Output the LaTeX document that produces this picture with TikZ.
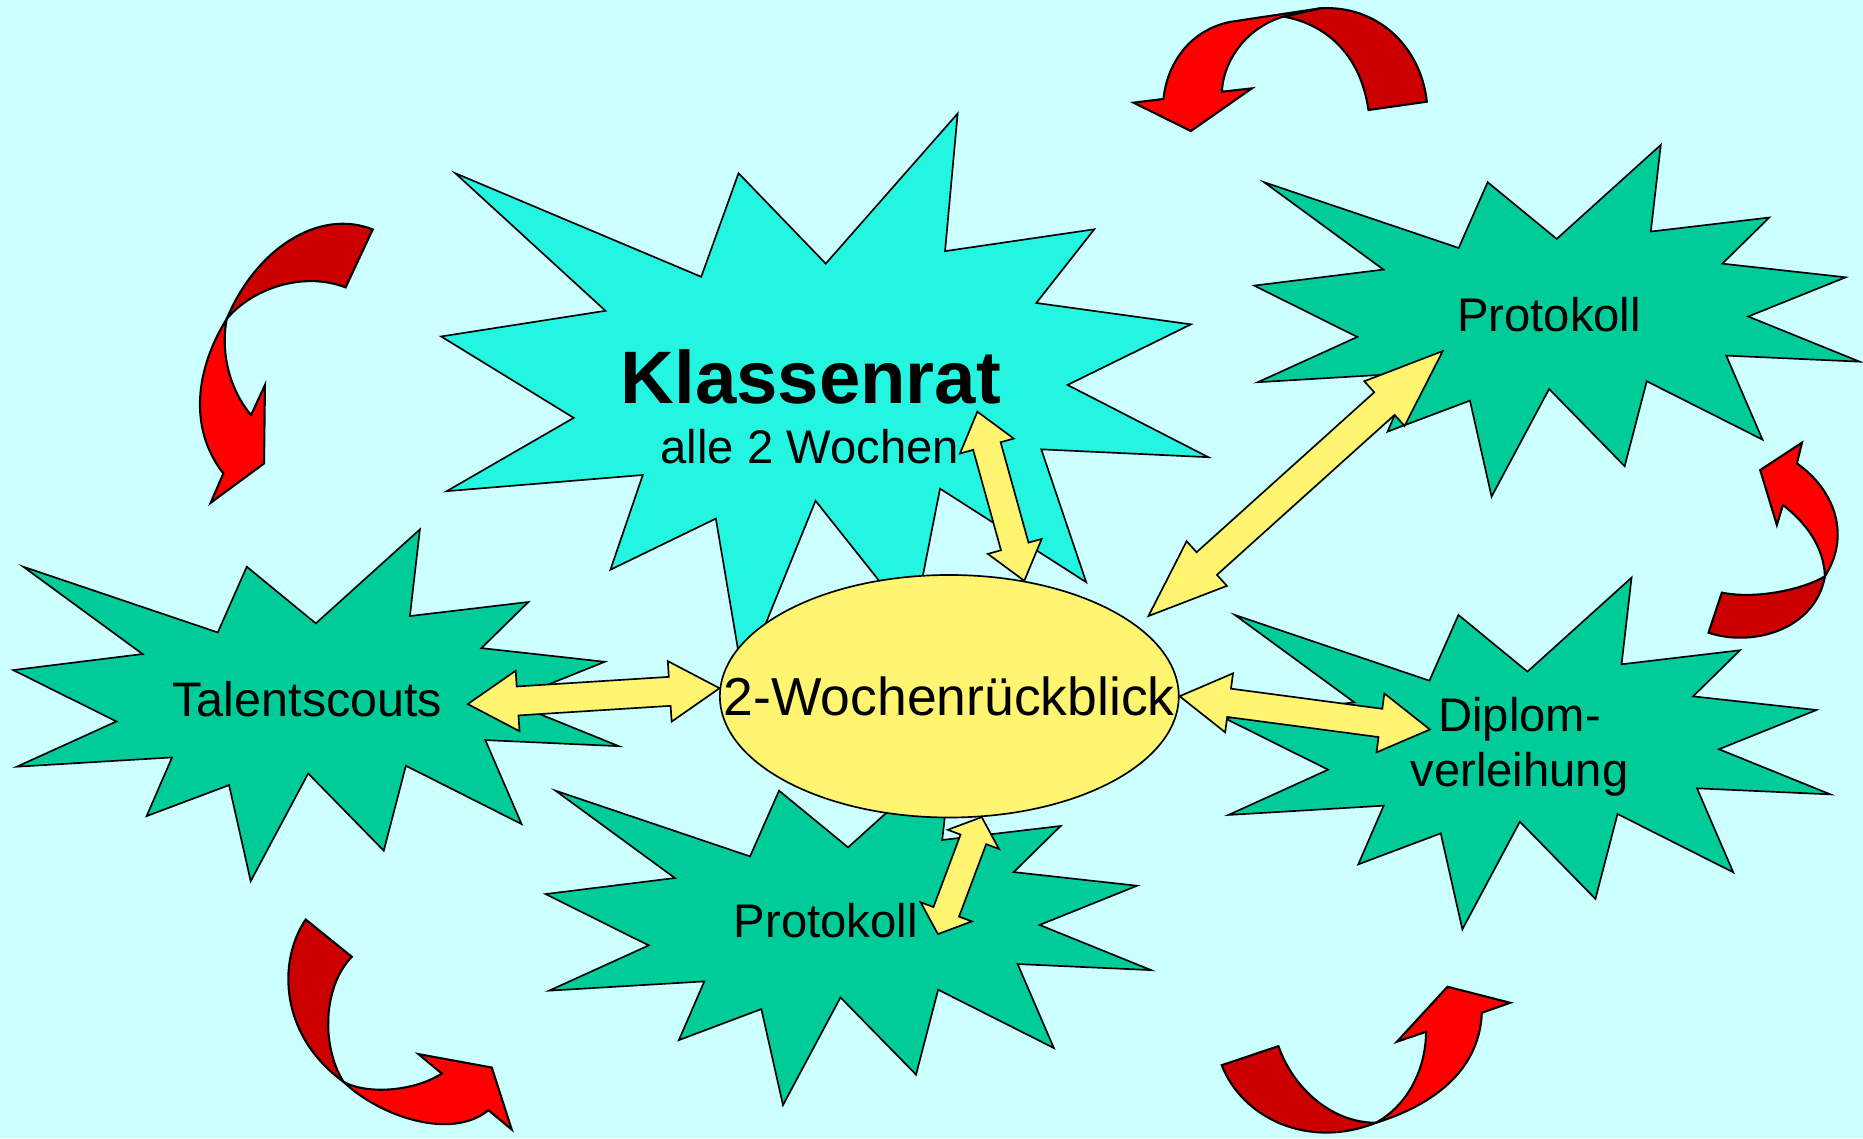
\documentclass[tikz,border=0pt]{standalone}
\usepackage{fontspec}
\setmainfont{Liberation Sans}
\usepackage{xcolor}
\usetikzlibrary{calc}
\usetikzlibrary{shapes.geometric}

\definecolor{bgcyan}{RGB}{204,255,255}
\definecolor{burstgreen}{RGB}{0,204,153}
\definecolor{burstcyan}{RGB}{36,245,224}
\definecolor{ryellow}{RGB}{255,245,112}
\definecolor{darkred}{RGB}{204,0,0}

\tikzset{
  pics/burst/.style={code={
    \filldraw[greenburst] (-240.4,-113) -- (-76.7,-57.7) -- (-52.3,-113) -- (5.8,-65.3)
      -- (93.4,-144.4) -- (85,-71.5) -- (184.7,-83.3) -- (145.2,-44.5) -- (249,-33)
      -- (167,0) -- (260.8,38) -- (148.5,32.9) -- (179,103.6) -- (81.6,54.5)
      -- (63,126) -- (-0.6,61) -- (-49,151.6) -- (-67.2,70.8) -- (-136.6,96.9)
      -- (-115.2,47.5) -- (-245.8,55.3) -- (-162,17.2) -- (-248.8,-26) -- (-140,-39.5) -- cycle;
  }}
}

% double block arrow: ends, shaft half width, head half width, head length
\newcommand\blockarrow[5]{%
  \filldraw[yarrow] (#1)
    -- ($(#1)!#5!(#2)!#4!90:(#2)$) -- ($(#1)!#5!(#2)!#3!90:(#2)$)
    -- ($(#2)!#5!(#1)!#3!-90:(#1)$) -- ($(#2)!#5!(#1)!#4!-90:(#1)$)
    -- (#2)
    -- ($(#2)!#5!(#1)!#4!90:(#1)$) -- ($(#2)!#5!(#1)!#3!90:(#1)$)
    -- ($(#1)!#5!(#2)!#3!-90:(#2)$) -- ($(#1)!#5!(#2)!#4!-90:(#2)$)
    -- cycle;}

\begin{document}
\begin{tikzpicture}[x=0.01cm, y=-0.01cm,
  greenburst/.style={draw=black, fill=burstgreen, line width=0.4pt},
  cyanburst/.style={draw=black, fill=burstcyan, line width=0.4pt},
  lbl/.style={font=\fontsize{11.3}{13.6}\selectfont, inner sep=0pt, anchor=base},
  yarrow/.style={draw=black, fill=ryellow, line width=0.4pt},
  backred/.style={draw=black, fill=darkred, line width=0.5pt},
  frontred/.style={draw=black, fill=red, line width=0.5pt}]
  \useasboundingbox (0,0) rectangle (1568,958);
  \fill[bgcyan] (0,0) rectangle (1568,958);

  % bursts
  \pic at (1304.4,266.4) {burst};
  \pic at (1279.8,630.6) {burst};
  \pic at (708,778.5) {burst};
  \pic at (260,590) {burst};
  \filldraw[cyanburst] (383.2,145.8) -- (590.2,233) -- (621.6,145.8) -- (695,221.9)
    -- (806,95.6) -- (795.4,211.4) -- (921,193) -- (872.2,255) -- (1002.4,273)
    -- (898.5,324) -- (1017,384.8) -- (876.4,378.2) -- (914.2,490) -- (791.2,411.3)
    -- (768.7,525) -- (686.4,421.5) -- (625.4,571.8) -- (602.5,436.5) -- (513.8,479.5)
    -- (541,399.8) -- (376,413.4) -- (482.9,351.7) -- (371.3,283.2) -- (509.6,261.6) -- cycle;

  % texts
  \node[lbl, font=\fontsize{17.8}{20}\selectfont\bfseries] (rat) at (682.5,339.7) {Klassenrat};
  \node[lbl] (ratsub) at (681.5,390.2) {alle 2 Wochen};
  \node[lbl, font=\fontsize{11.6}{13.6}\selectfont] (tal) at (258.7,603.3) {Talentscouts};
  \node[lbl] (prot) at (1303.8,279.2) {Protokoll};
  \node[lbl] (prot2) at (695,789) {Protokoll};
  \node[lbl, align=center, font=\fontsize{11.3}{13}\selectfont] (dip) at (1278.9,661.6) {Diplom-\\verleihung};

  \node[ellipse, draw=black, fill=ryellow, line width=0.4pt, minimum width=3.86cm,
    minimum height=2.04cm, inner sep=0pt, font=\fontsize{12.8}{15}\selectfont]
    (rueck) at (799,586) {\makebox[0pt]{2-Wochenrückblick}};

  % arrow ends
  \coordinate (tal-end) at (393.7,592.6);
  \coordinate (dip-end) at (1203.5,614);
  \coordinate (rat-end) at (822.6,346.5);
  \coordinate (prot-end) at (1214.3,295.5);
  \coordinate (rueck-ne) at (966.6,518.5);
  \coordinate (prot2-end) at (789.4,786.2);

  \blockarrow{tal-end}{rueck.178}{0.122cm}{0.255cm}{0.42cm}
  \blockarrow{rueck.0}{dip-end}{0.12cm}{0.25cm}{0.42cm}
  \blockarrow{rat-end}{rueck.57}{0.12cm}{0.235cm}{0.3cm}
  \blockarrow{rueck-ne}{prot-end}{0.128cm}{0.253cm}{0.66cm}
  \blockarrow{rueck.-75}{prot2-end}{0.115cm}{0.23cm}{0.2cm}

  % curved red arrows
  \filldraw[backred] (1151.8,92.6) .. controls (1145,45) and (1115,20) .. (1080.3,14)
    -- (1111.2,7) .. controls (1160,4) and (1196,40) .. (1200.9,85.6) -- cycle;
  \filldraw[frontred] (1111.2,7) -- (1035,18.5) .. controls (1000,26) and (982,55) .. (979.3,83.3)
    -- (954,86.4) -- (1002.3,110.3) -- (1053.6,74.4) -- (1028.4,77.2)
    .. controls (1030,48) and (1052,22) .. (1080.3,14) -- cycle;

  \filldraw[backred] (190.8,268.5) .. controls (215,210) and (268,175) .. (313.7,193.1)
    -- (290.9,241.9) .. controls (255,228) and (212,243) .. (190.8,268.5) -- cycle;
  \filldraw[frontred] (190.8,268.5) .. controls (165,310) and (158,360) .. (188,398.5)
    -- (177.3,423.2) -- (222.2,390.1) -- (223,324.1) -- (211.3,349.4)
    .. controls (195,330) and (185,300) .. (190.8,268.5) -- cycle;

  \filldraw[backred] (257.3,773.9) .. controls (233,810) and (236,872) .. (289.1,910.5)
    .. controls (270,880) and (272,830) .. (296.1,805.3) -- cycle;
  \filldraw[frontred] (289.1,910.5) .. controls (320,940) and (380,960) .. (411.1,934.4)
    -- (430.7,950.7) -- (413.9,898.5) -- (352.2,887.2) -- (371.8,903.5)
    .. controls (350,918) and (310,922) .. (289.1,910.5) -- cycle;

  \filldraw[backred] (1028.3,896.5) .. controls (1045,940) and (1100,968) .. (1158,945)
    .. controls (1120,945) and (1088,915) .. (1076,880.5) -- cycle;
  \filldraw[frontred] (1158,945) .. controls (1200,932) and (1245,905) .. (1247.2,852.4)
    -- (1271.1,844) -- (1218.3,830.5) -- (1175.7,876.8) -- (1200.3,868.4)
    .. controls (1200,900) and (1185,930) .. (1158,945) -- cycle;

  \filldraw[backred] (1438,532.5) .. controls (1475,545) and (1528,530) .. (1536,485)
    .. controls (1520,495) and (1480,505) .. (1449.2,498.8) -- cycle;
  \filldraw[frontred] (1536,485) .. controls (1557,452) and (1546,414) .. (1512.4,390)
    -- (1516.6,372.6) -- (1481.5,395.6) -- (1495.5,441.9) -- (1500.6,425)
    .. controls (1520,440) and (1535,460) .. (1536,485) -- cycle;
\end{tikzpicture}
\end{document}
